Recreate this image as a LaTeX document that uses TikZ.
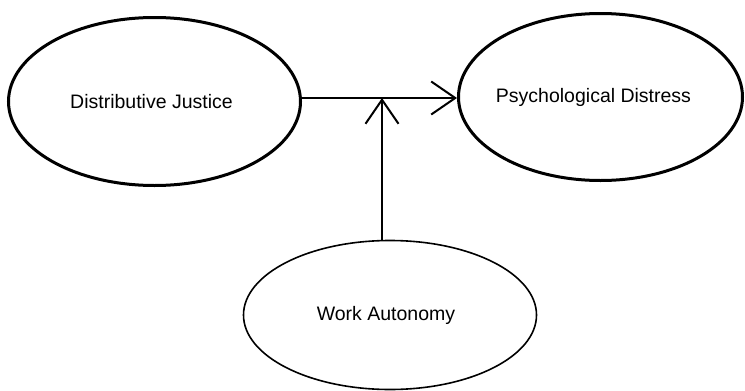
\documentclass[tikz,border=0pt]{standalone}
\usepackage{fontspec}
\setmainfont{Liberation Sans}
\usetikzlibrary{shapes.geometric,arrows.meta}
\tikzset{
  oval/.style={draw=black, ellipse, inner sep=0pt, font=\fontsize{19.5}{22}\selectfont},
  thickoval/.style={oval, line width=3pt},
  thinoval/.style={oval, line width=1.6pt},
  link/.style={draw=black, line width=2pt, -{Straight Barb[length=24pt,width=33pt,line width=2pt]}}
}
\begin{document}
\begin{tikzpicture}[x=1pt,y=-1pt]
\useasboundingbox (0,0) rectangle (745,391);
\node[thickoval, minimum width=292pt, minimum height=168pt] (dj) at (154.5,101.5) {\hspace*{-6pt}\raisebox{-2pt}{Distributive Justice}};
\node[thickoval, minimum width=284pt, minimum height=167pt] (pd) at (600.5,97) {\hspace*{-14pt}\raisebox{-1pt}{Psychological Distress}};
\node[thinoval, minimum width=293pt, minimum height=149pt] (wa) at (390,315) {\hspace*{-8pt}Work Autonomy};
\coordinate (m) at (382,98);
\coordinate (wt) at (382,240);
\draw[link] (m -| dj.east) -- (m -| pd.west);
\draw[link] (wt) -- (m);
\end{tikzpicture}
\end{document}
